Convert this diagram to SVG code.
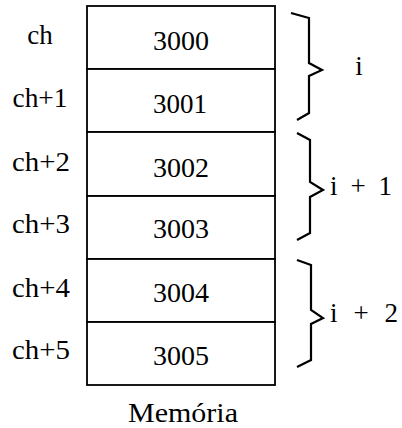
<svg xmlns="http://www.w3.org/2000/svg" width="402" height="428" viewBox="0 0 402 428">
<style>
text { font-family: "Liberation Serif", "Times New Roman", serif; font-size: 27px; fill: #000; }
.cell { fill: #fff; stroke: #000; stroke-width: 1.8; }
.val { text-anchor: middle; }
.lab { text-anchor: middle; }
.brace { fill: none; stroke: #000; stroke-width: 2.2; stroke-linejoin: miter; }
</style>
<rect width="402" height="428" fill="#fff"/>
<g id="cell-3000">
  <rect class="cell" x="87" y="6" width="188" height="63"/>
  <text class="val" x="181" y="50" textLength="56" lengthAdjust="spacingAndGlyphs">3000</text>
  <text class="lab" x="40" y="44">ch</text>
</g>
<g id="cell-3001">
  <rect class="cell" x="87" y="69" width="188" height="63"/>
  <text class="val" x="180" y="113" textLength="54" lengthAdjust="spacingAndGlyphs">3001</text>
  <text class="lab" x="40" y="107" textLength="55" lengthAdjust="spacingAndGlyphs">ch+1</text>
</g>
<g id="cell-3002">
  <rect class="cell" x="87" y="132" width="188" height="64"/>
  <text class="val" x="181" y="177" textLength="56" lengthAdjust="spacingAndGlyphs">3002</text>
  <text class="lab" x="41" y="171" textLength="58" lengthAdjust="spacingAndGlyphs">ch+2</text>
</g>
<g id="cell-3003">
  <rect class="cell" x="87" y="196" width="188" height="63"/>
  <text class="val" x="181" y="238" textLength="56" lengthAdjust="spacingAndGlyphs">3003</text>
  <text class="lab" x="41" y="233" textLength="58" lengthAdjust="spacingAndGlyphs">ch+3</text>
</g>
<g id="cell-3004">
  <rect class="cell" x="87" y="259" width="188" height="63"/>
  <text class="val" x="181" y="302" textLength="56" lengthAdjust="spacingAndGlyphs">3004</text>
  <text class="lab" x="41" y="297" textLength="58" lengthAdjust="spacingAndGlyphs">ch+4</text>
</g>
<g id="cell-3005">
  <rect class="cell" x="87" y="322" width="188" height="63"/>
  <text class="val" x="181" y="365" textLength="56" lengthAdjust="spacingAndGlyphs">3005</text>
  <text class="lab" x="41" y="359" textLength="58" lengthAdjust="spacingAndGlyphs">ch+5</text>
</g>
<g id="braces">
  <polyline class="brace" points="291,13 309,18 309,63 322,70 309,76 309,113 297,120"/>
  <polyline class="brace" points="297,133 310,140 310,182 323,190 310,197 310,233 297,240"/>
  <polyline class="brace" points="297,260 311,265 311,310 323,318 311,324 311,360 297,367"/>
</g>
<g id="group-i">
  <text x="359" y="75" text-anchor="middle">i</text>
</g>
<g id="group-i1">
  <text x="330" y="195" textLength="62" lengthAdjust="spacing">i + 1</text>
</g>
<g id="group-i2">
  <text x="330" y="322" textLength="68" lengthAdjust="spacing">i + 2</text>
</g>
<g id="caption">
  <text x="183" y="422" text-anchor="middle" textLength="110" lengthAdjust="spacingAndGlyphs">Memória</text>
</g>
</svg>
